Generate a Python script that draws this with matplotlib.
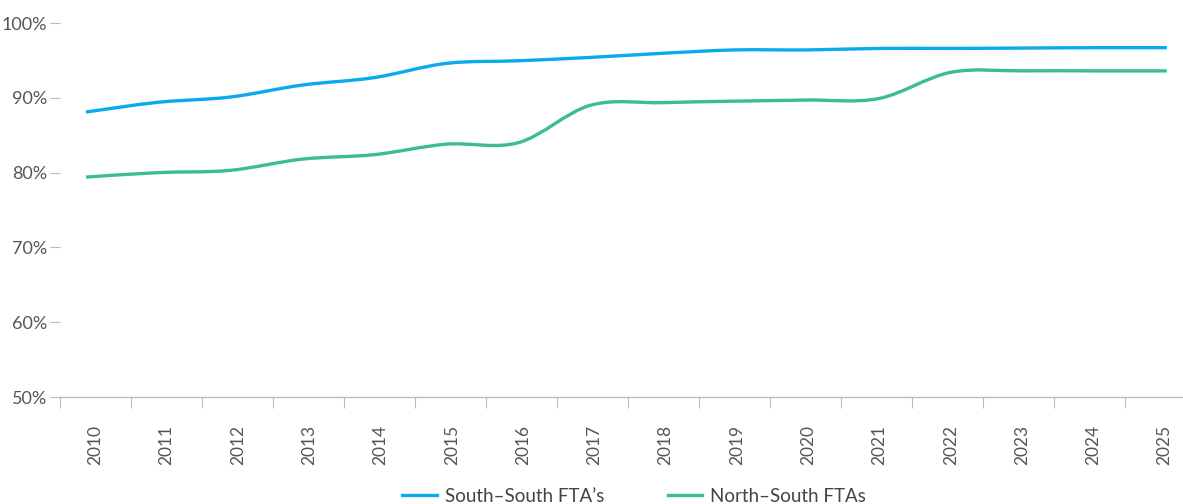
import numpy as np
import matplotlib
matplotlib.use('Agg')
import matplotlib.pyplot as plt
from matplotlib.path import Path
from matplotlib.patches import PathPatch
from matplotlib.lines import Line2D

years = ['2010', '2011', '2012', '2013', '2014', '2015', '2016', '2017',
         '2018', '2019', '2020', '2021', '2022', '2023', '2024', '2025']
south_south = [88.1, 89.4, 90.1, 91.7, 92.7, 94.6, 94.95, 95.4,
               95.95, 96.4, 96.4, 96.6, 96.6, 96.65, 96.7, 96.7]
north_south = [79.4, 80.0, 80.3, 81.8, 82.4, 83.8, 84.0, 89.0,
               89.35, 89.55, 89.7, 89.9, 93.4, 93.6, 93.6, 93.6]
y_ticks = [50, 60, 70, 80, 90, 100]

BLUE = '#0aaaec'
GREEN = '#3bbd8f'
GREY = '#555555'

plt.rcParams['font.family'] = ['Lato', 'DejaVu Sans']


def smooth_path(x, y):
    # catmull-rom curve through the points, as cubic beziers
    x = np.asarray(x, float)
    y = np.asarray(y, float)
    n = len(x)
    verts = [(x[0], y[0])]
    codes = [Path.MOVETO]
    for i in range(n - 1):
        p0 = np.array([x[max(i - 1, 0)], y[max(i - 1, 0)]])
        p1 = np.array([x[i], y[i]])
        p2 = np.array([x[i + 1], y[i + 1]])
        p3 = np.array([x[min(i + 2, n - 1)], y[min(i + 2, n - 1)]])
        c1 = p1 + (p2 - p0) / 6
        c2 = p2 - (p3 - p1) / 6
        verts += [tuple(c1), tuple(c2), tuple(p2)]
        codes += [Path.CURVE4] * 3
    return Path(verts, codes)


fig = plt.figure(figsize=(11.83, 5.04), dpi=100)
ax = fig.add_axes([60 / 1183, 1 - 397 / 504, 1122 / 1183, 374 / 504])

xs = np.arange(len(years))
for vals, col in [(south_south, BLUE), (north_south, GREEN)]:
    ax.add_patch(PathPatch(smooth_path(xs, vals), fill=False, edgecolor=col,
                           lw=2.4, capstyle='butt', joinstyle='round'))

ax.set_xlim(-0.36, 15.21)
ax.set_ylim(50, 100)

ax.set_yticks(y_ticks)
ax.set_yticklabels([f'{v}%' for v in y_ticks])
ax.tick_params(axis='y', length=7, width=0.8, color='#bbbbbb', pad=2,
               labelsize=13, labelcolor=GREY)

ax.set_xticks(np.linspace(0.13, 14.97, 16))
ax.set_xticklabels(years, rotation=90)
ax.tick_params(axis='x', which='major', length=0, pad=20, labelsize=12.5,
               labelcolor=GREY)
ax.set_xticks(np.linspace(-0.36, 14.42, 16), minor=True)
ax.tick_params(axis='x', which='minor', length=8, width=0.8, color='#bbbbbb')

for s in ['top', 'right', 'left']:
    ax.spines[s].set_visible(False)
ax.spines['bottom'].set_color('#bbbbbb')
ax.spines['bottom'].set_linewidth(1)

handles = [Line2D([], [], color=BLUE, lw=2.4),
           Line2D([], [], color=GREEN, lw=2.4)]
fig.legend(handles, ['South\u2013South FTA\u2019s', 'North\u2013South FTAs'],
           loc='lower center', bbox_to_anchor=(0.536, -0.035), ncol=2,
           frameon=False, fontsize=13.5, handlelength=1.85, handletextpad=0.4,
           columnspacing=3.4, labelcolor='#444444')

fig.savefig('out.png', dpi=100)
